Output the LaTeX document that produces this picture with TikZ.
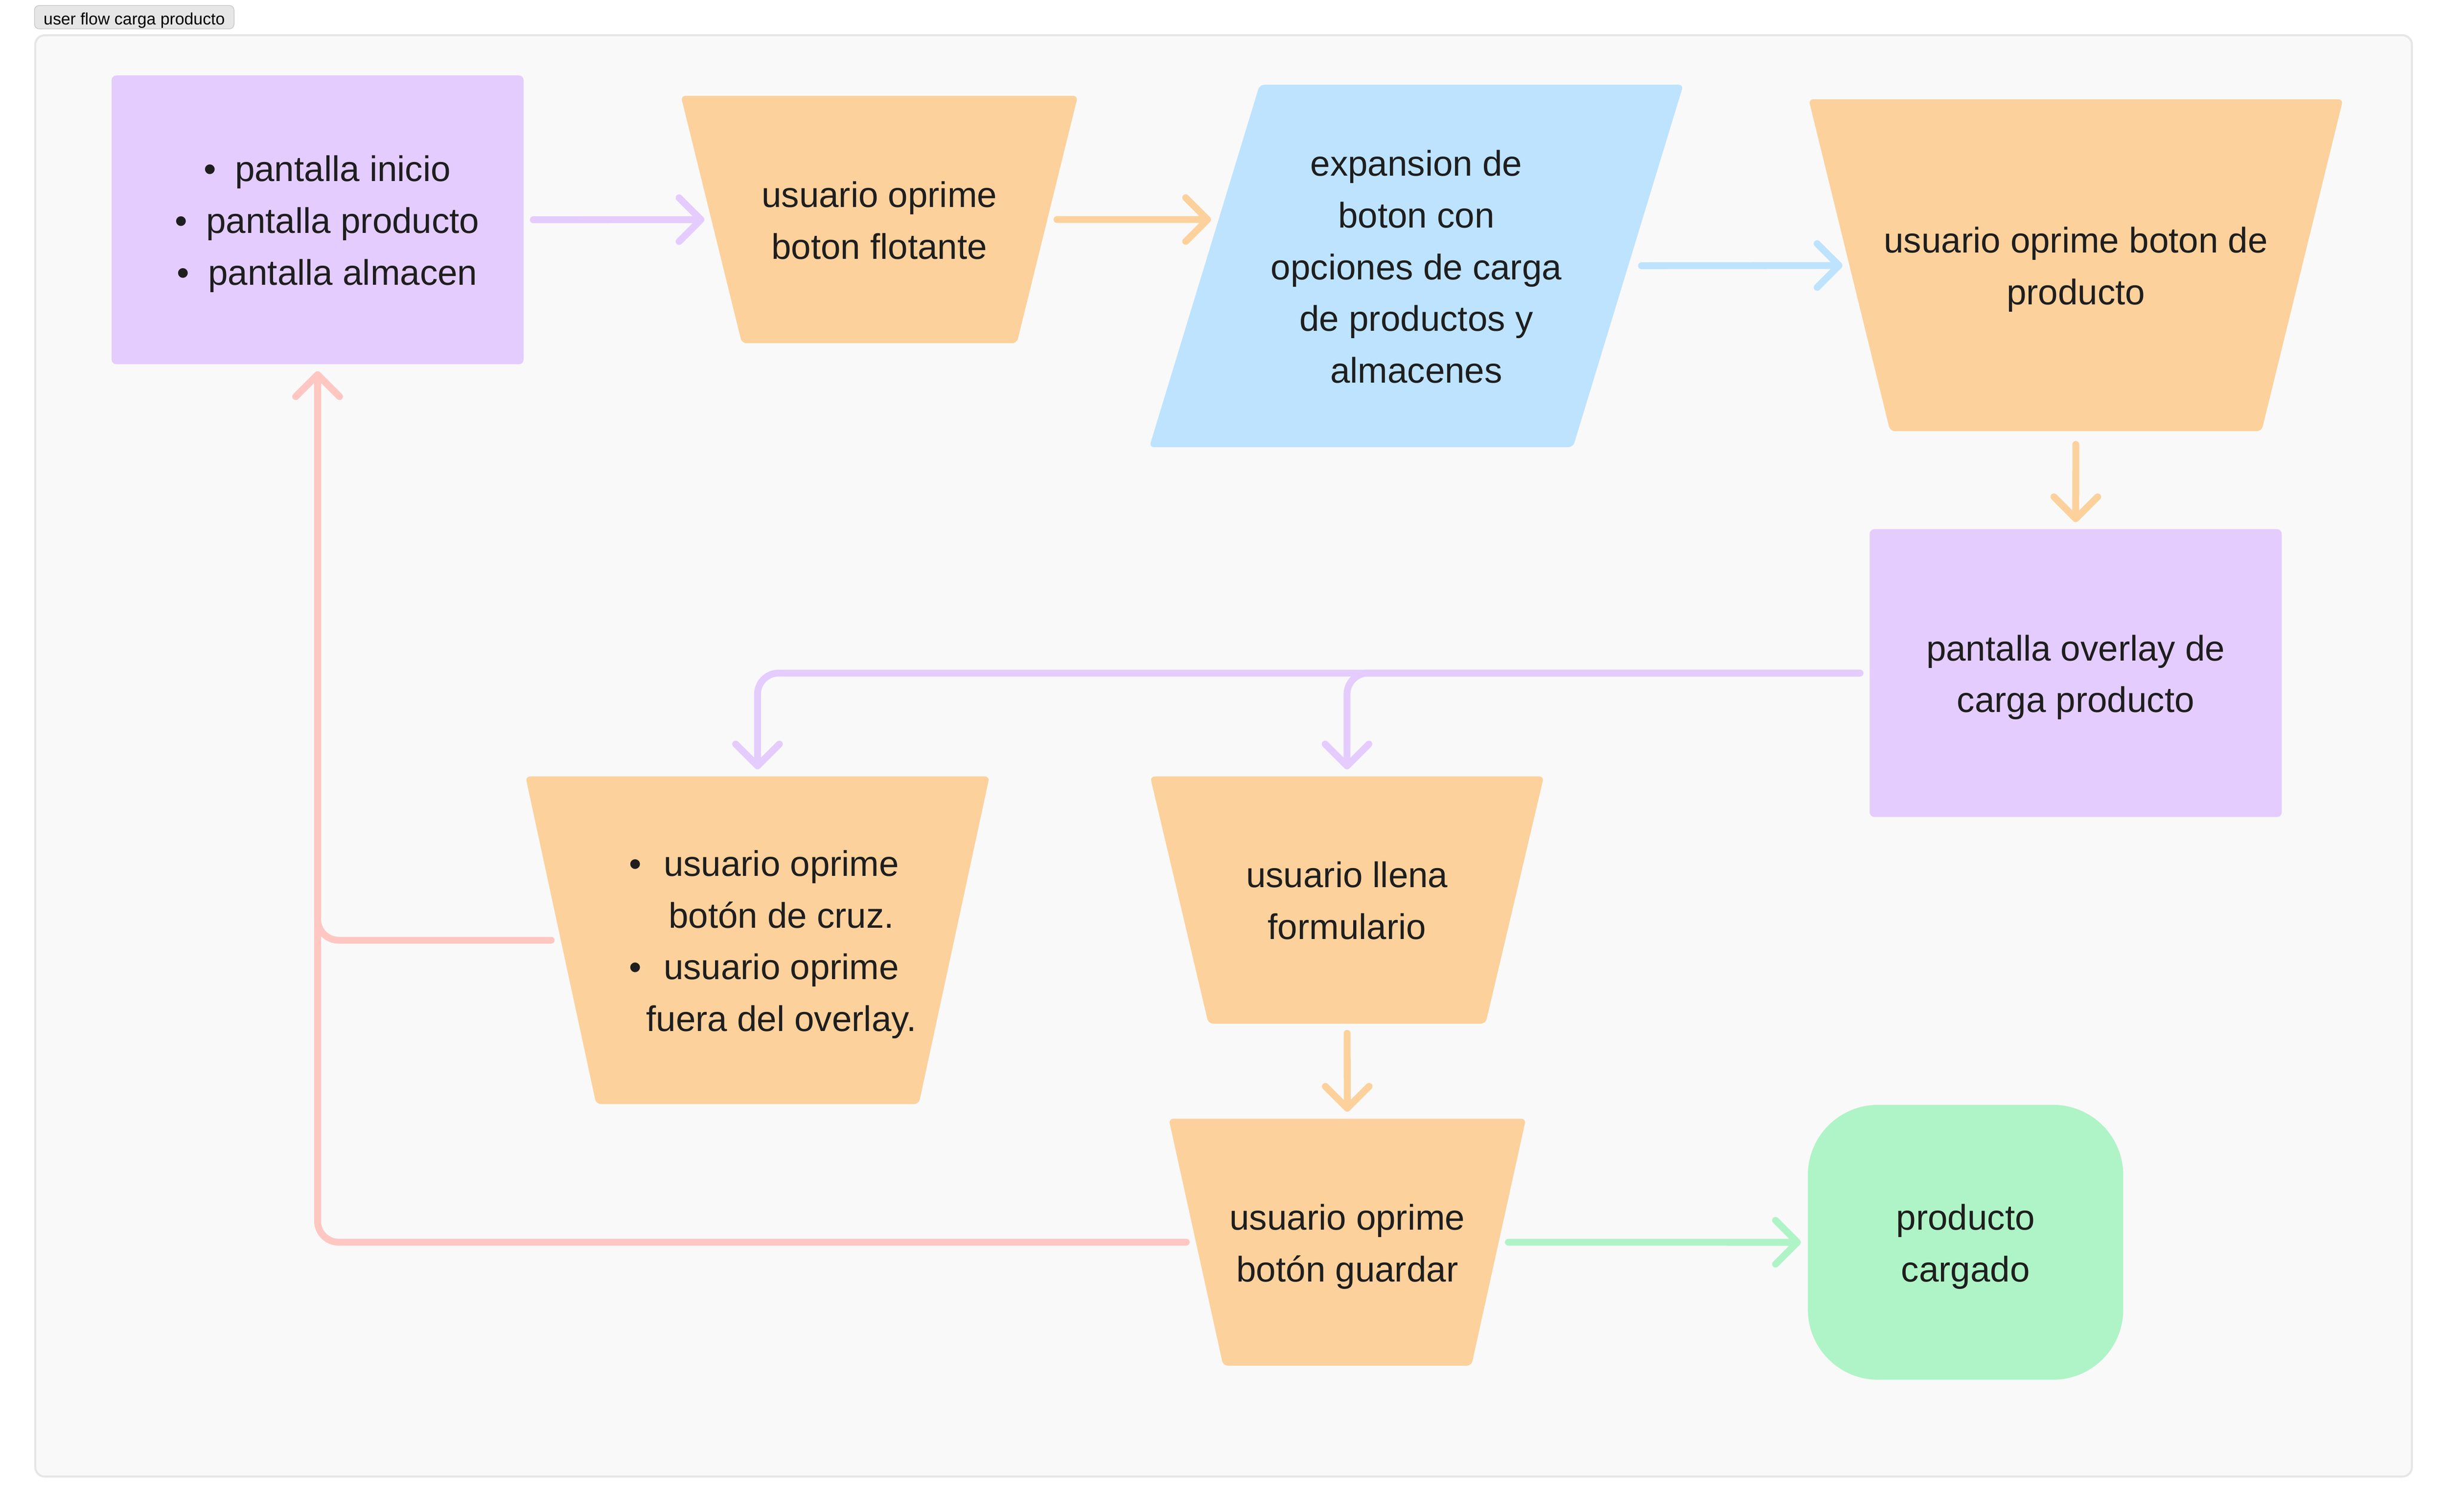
\documentclass[tikz,border=0pt]{standalone}
\usepackage{fontspec}
\setmainfont{Liberation Sans}
\usetikzlibrary{shapes.geometric,arrows.meta}
\definecolor{violeta}{HTML}{E4CCFF}
\definecolor{naranja}{HTML}{FCD19C}
\definecolor{celeste}{HTML}{BDE3FF}
\definecolor{verde}{HTML}{AFF4C6}
\definecolor{rojo}{HTML}{FFC7C2}
\definecolor{tinta}{HTML}{1E1E1E}
\definecolor{fondo}{HTML}{F9F9F9}
\definecolor{borde}{HTML}{E6E6E6}
\definecolor{gris}{HTML}{C4C4C4}
\newcommand\linea{\rule[-8pt]{0pt}{33.2pt}}
\newcommand\punto[1]{\hspace*{12.3pt}\linea\textbullet\hspace{12pt}#1}
\newcommand\vineta[2]{\linea\makebox[30.6pt][l]{#1}\makebox[133.8pt]{#2}}
\begin{document}
\begin{tikzpicture}[x=1pt,y=-1pt,
  texto/.style={font=\fontsize{22.8}{33.2}\selectfont,text=tinta,align=center,inner sep=0pt},
  caja/.style={texto,rectangle,rounded corners=3pt,minimum width=263.9pt,minimum height=185pt},
  trapecio/.style={texto,trapezium,trapezium stretches body=true,shape border rotate=180,fill=naranja,rounded corners=3pt},
  flecha/.style={line width=4.4pt,line cap=round,rounded corners=13.5pt,shorten <=6pt,shorten >=4.3pt,-{Straight Barb[length=14pt,width=28pt,round]}}]
\fill[white] (0,0) rectangle (1567.4,968.6);
\useasboundingbox (0,0) rectangle (1567.4,968.6);
\draw[line width=1.3pt,draw=borde,fill=fondo,rounded corners=6pt] (22.6,22.6) rectangle (1544.9,945.9);
\node[draw=gris,fill=borde,rounded corners=3pt,minimum width=127.8pt,minimum height=15pt,inner sep=0pt,text height=10pt,text depth=0.4pt,font=\fontsize{10.6}{12}\selectfont] (titulo) at (86,11) {user flow carga producto};

\node[caja,fill=violeta] (inicio) at (203.45,140.85) {\punto{pantalla inicio}\\\punto{pantalla producto}\\\punto{pantalla almacen}};
\node[trapecio,minimum width=254.3pt,minimum height=158.5pt,trapezium left angle=59.5,trapezium right angle=59.5] (flotante) at (563.25,140.65) {\linea usuario oprime\\\linea boton flotante};
\node[texto,trapezium,trapezium stretches body=true,trapezium left angle=66.93,trapezium right angle=113.07,fill=celeste,rounded corners=3pt,minimum width=342.1pt,minimum height=232.2pt] (expansion) at (907.2,170.4) {\linea expansion de\\\linea boton con\\\linea opciones de carga\\\linea de productos y\\\linea almacenes};
\node[trapecio,minimum width=342.3pt,minimum height=212.6pt,trapezium left angle=51.83,trapezium right angle=51.83] (oprime) at (1329.65,169.9) {\linea\makebox[236pt]{usuario oprime boton de}\\\linea producto};
\node[caja,fill=violeta,minimum height=184.4pt] (overlay) at (1329.55,431.2) {\linea pantalla overlay de\\\linea carga producto};
\node[trapecio,minimum width=297.2pt,minimum height=209.9pt,trapezium left angle=71.17,trapezium right angle=71.17] (cruz) at (485.2,602.35) {\vineta{\textbullet}{usuario oprime}\\\vineta{}{botón de cruz.}\\\vineta{\textbullet}{usuario oprime}\\\vineta{}{fuera del overlay.}};
\node[trapecio,minimum width=252.2pt,minimum height=158.4pt,trapezium left angle=60.64,trapezium right angle=60.64] (formulario) at (862.8,576.6) {\linea usuario llena\\\linea formulario};
\node[trapecio,minimum width=228.8pt,minimum height=158.2pt,trapezium left angle=62.27,trapezium right angle=62.27] (guardar) at (863,795.8) {\linea usuario oprime\\\linea botón guardar};
\node[texto,rectangle,rounded corners=45pt,fill=verde,minimum width=202pt,minimum height=176.1pt] (cargado) at (1259,795.85) {\linea producto\\\linea cargado};

\draw[flecha,violeta] (inicio) -- (flotante);
\draw[flecha,naranja] (flotante) -- ([xshift=-127.2pt]expansion.center |- flotante);
\draw[flecha,celeste,shorten <=8.3pt] (expansion) -- (oprime);
\draw[flecha,naranja,shorten <=8.3pt] (oprime) -- (overlay);
\draw[flecha,violeta] (overlay) -| (cruz);
\draw[flecha,violeta] (overlay) -| (formulario);
\draw[flecha,naranja] (formulario) -- (guardar);
\draw[flecha,rojo] (cruz) -| (inicio);
\draw[flecha,rojo] (guardar) -| (inicio);
\draw[flecha,verde] (guardar) -- (cargado);
\end{tikzpicture}
\end{document}
